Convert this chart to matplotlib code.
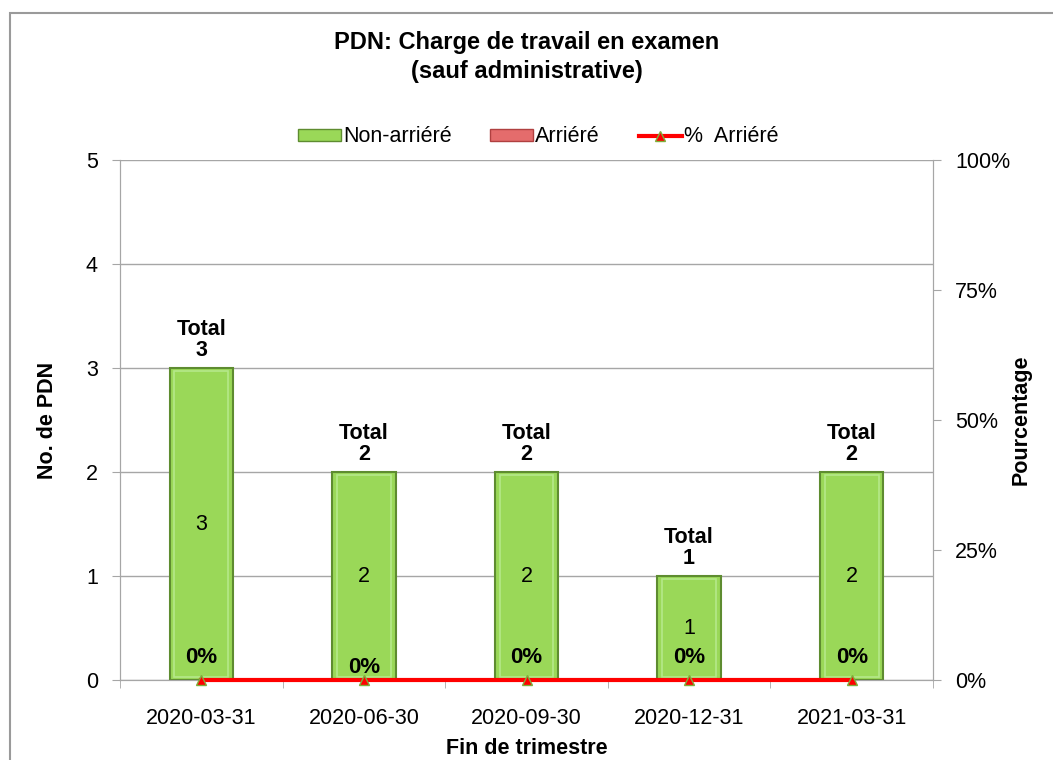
import numpy as np
import matplotlib.pyplot as plt
from matplotlib.patches import Rectangle
from matplotlib.lines import Line2D

plt.rcParams['font.family'] = ['Liberation Sans', 'DejaVu Sans']

# Datos
trimestres = ["2020-03-31", "2020-06-30", "2020-09-30", "2020-12-31", "2021-03-31"]
non_arriere = [3, 2, 2, 1, 2]
arriere = [0, 0, 0, 0, 0]
pct_arriere = [0, 0, 0, 0, 0]

vert = "#9AD858"
vert_bord = "#5E8C30"
gris = "#A6A6A6"
fs = 15.5

fig = plt.figure(figsize=(10.53, 7.6), dpi=100)
# cadre du graphique
fig.patches.append(Rectangle((10 / 1053, -0.1), 1.2, 1 - 13 / 760 + 0.1, transform=fig.transFigure,
                             fill=False, edgecolor="#9A9A9A", linewidth=1.5))

ax = fig.add_axes([120 / 1053, 1 - 680 / 760, (933 - 120) / 1053, (680 - 160) / 760])
x = np.arange(len(trimestres))
total = np.array(non_arriere) + np.array(arriere)

ax.bar(x, non_arriere, width=0.39, color=vert, edgecolor=vert_bord, linewidth=1.5, zorder=3)
# petit effet de relief
ax.bar(x, np.array(non_arriere) - 0.06, bottom=0.03, width=0.33, color="none",
       edgecolor="#B5E88A", linewidth=1.2, zorder=3)
ax.bar(x, arriere, bottom=non_arriere, width=0.39, color="#E46C6C", edgecolor="#B04040",
       linewidth=0, zorder=3)

ax.set_ylim(0, 5)
ax.set_xlim(-0.5, len(trimestres) - 0.5)
ax.set_yticks(range(6))
ax.yaxis.grid(True, color=gris, linewidth=1)
ax.set_axisbelow(True)
ax.set_xticks(x)
ax.set_xticklabels(trimestres, fontsize=fs)
ax.set_xticks(np.arange(-0.5, len(trimestres)), minor=True)
ax.tick_params(axis="x", which="major", length=0, pad=20)
ax.tick_params(axis="x", which="minor", length=6, color=gris)
ax.tick_params(axis="y", labelsize=fs, length=6, color=gris, pad=10)
for s in ["left", "bottom", "right"]:
    ax.spines[s].set_color(gris)
ax.spines["top"].set_visible(False)

ax.set_ylabel("No. de PDN", fontsize=fs, fontweight="bold", labelpad=20)
fig.text(527 / 1053, 1 - 748 / 760, "Fin de trimestre", ha="center", va="center",
         fontsize=fs, fontweight="bold")

for i, v in enumerate(non_arriere):
    ax.text(x[i], v / 2, str(v), ha="center", va="center", fontsize=fs, zorder=5)
    ax.text(x[i], total[i] + 0.07, "Total\n" + str(total[i]), ha="center", va="bottom",
            fontsize=fs, fontweight="bold", linespacing=1.0, zorder=5)
    off = 0.12 if i == 1 else 0.22
    ax.text(x[i], off, "{:.0f}%".format(pct_arriere[i] * 100), ha="center", va="center",
            fontsize=fs + 0.5, fontweight="bold", zorder=6)

ax2 = ax.twinx()
ax2.set_ylim(0, 1)
ax2.set_yticks([0, 0.25, 0.5, 0.75, 1.0])
ax2.set_yticklabels(["0%", "25%", "50%", "75%", "100%"])
ax2.tick_params(axis="y", labelsize=fs, length=6, color=gris, pad=10)
for s in ["left", "bottom", "right"]:
    ax2.spines[s].set_color(gris)
ax2.spines["top"].set_visible(False)
ax2.set_ylabel("Pourcentage", fontsize=fs, fontweight="bold", labelpad=0)
ax2.plot(x, pct_arriere, color="red", linewidth=3, marker="^", markersize=7,
         markerfacecolor="red", markeredgecolor="#7FAE3A", clip_on=False, zorder=4)

fig.text(527 / 1053, 1 - 57 / 760, "PDN: Charge de travail en examen\n(sauf administrative)",
         ha="center", va="center", fontsize=17, fontweight="bold", linespacing=1.35)

handles = [Rectangle((0, 0), 1, 1, facecolor=vert, edgecolor=vert_bord),
           Rectangle((0, 0), 1, 1, facecolor="#E46C6C", edgecolor="#B04040"),
           Line2D([0], [0], color="red", linewidth=3, marker="^", markersize=7,
                  markerfacecolor="red", markeredgecolor="#7FAE3A")]
fig.legend(handles, ["Non-arriéré", "Arriéré", "%  Arriéré"], loc="center",
           bbox_to_anchor=(538 / 1053, 1 - 137 / 760), ncol=3, frameon=False, fontsize=fs,
           handlelength=2.0, handleheight=0.5, handletextpad=0.1, columnspacing=1.8)

plt.savefig("out.png", dpi=100)
